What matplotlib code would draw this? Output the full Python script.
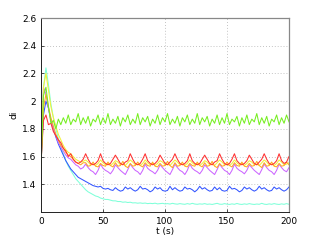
import numpy as np
import matplotlib
matplotlib.use('Agg')
import matplotlib.pyplot as plt

# time grid (s), one sample every 2 s
t = np.arange(0, 201, 2)

green = [1.50, 2.04, 2.10, 1.96, 1.84, 1.86, 1.80, 1.87, 1.83, 1.88,
         1.84, 1.90, 1.83, 1.87, 1.85, 1.91, 1.83, 1.88, 1.84, 1.89,
         1.82, 1.87, 1.85, 1.90, 1.83, 1.88, 1.84, 1.91, 1.83, 1.87,
         1.84, 1.89, 1.82, 1.88, 1.85, 1.90, 1.83, 1.87, 1.84, 1.91,
         1.83, 1.88, 1.85, 1.89, 1.82, 1.87, 1.84, 1.90, 1.83, 1.88,
         1.85, 1.91, 1.83, 1.87, 1.84, 1.89, 1.82, 1.88, 1.85, 1.90,
         1.83, 1.87, 1.84, 1.91, 1.83, 1.88, 1.85, 1.89, 1.82, 1.87,
         1.84, 1.90, 1.83, 1.88, 1.84, 1.91, 1.83, 1.87, 1.85, 1.89,
         1.82, 1.88, 1.84, 1.90, 1.83, 1.87, 1.85, 1.91, 1.83, 1.88,
         1.84, 1.89, 1.82, 1.87, 1.85, 1.90, 1.83, 1.88, 1.84, 1.90,
         1.85]

red = [1.55, 1.86, 1.90, 1.83, 1.84, 1.78, 1.75, 1.72, 1.70, 1.66,
       1.64, 1.60, 1.62, 1.58, 1.56, 1.55, 1.56, 1.58,
       1.62, 1.58, 1.55, 1.54, 1.55, 1.57,
       1.62, 1.57, 1.55, 1.54, 1.55, 1.58,
       1.61, 1.58, 1.55, 1.54, 1.56, 1.57,
       1.62, 1.58, 1.55, 1.54, 1.55, 1.58,
       1.62, 1.57, 1.55, 1.54, 1.55, 1.57,
       1.61, 1.58, 1.55, 1.54, 1.56, 1.58,
       1.62, 1.58, 1.55, 1.54, 1.55, 1.57,
       1.62, 1.57, 1.55, 1.54, 1.55, 1.58,
       1.61, 1.58, 1.55, 1.54, 1.56, 1.57,
       1.62, 1.58, 1.55, 1.54, 1.55, 1.58,
       1.62, 1.57, 1.55, 1.54, 1.55, 1.57,
       1.61, 1.58, 1.55, 1.54, 1.56, 1.58,
       1.62, 1.58, 1.55, 1.54, 1.55, 1.57,
       1.62, 1.57, 1.55, 1.56, 1.60]

orange = [1.56, 1.95, 2.05, 1.96, 1.88, 1.82, 1.76, 1.72, 1.68, 1.66,
          1.63, 1.61, 1.60, 1.58, 1.56, 1.55, 1.54, 1.555,
          1.555, 1.53, 1.535, 1.56, 1.53, 1.525,
          1.55, 1.535, 1.53, 1.56, 1.535, 1.525,
          1.555, 1.53, 1.535, 1.565, 1.53, 1.52,
          1.55, 1.53, 1.535, 1.56, 1.535, 1.525,
          1.555, 1.535, 1.53, 1.56, 1.53, 1.525,
          1.55, 1.53, 1.535, 1.565, 1.535, 1.52,
          1.555, 1.53, 1.535, 1.56, 1.53, 1.525,
          1.55, 1.535, 1.53, 1.56, 1.535, 1.525,
          1.555, 1.53, 1.535, 1.565, 1.53, 1.52,
          1.55, 1.53, 1.535, 1.56, 1.535, 1.525,
          1.555, 1.535, 1.53, 1.56, 1.53, 1.525,
          1.55, 1.53, 1.535, 1.565, 1.535, 1.52,
          1.555, 1.53, 1.535, 1.56, 1.53, 1.525,
          1.55, 1.53, 1.535, 1.56, 1.54]

yellow = [1.58, 2.10, 2.20, 2.08, 1.96, 1.88, 1.82, 1.76, 1.72, 1.68,
          1.65, 1.63, 1.62, 1.60, 1.58, 1.57, 1.56, 1.565,
          1.575, 1.56, 1.54, 1.545, 1.535, 1.55,
          1.575, 1.555, 1.54, 1.55, 1.535, 1.55,
          1.57, 1.56, 1.54, 1.545, 1.535, 1.555,
          1.575, 1.56, 1.54, 1.545, 1.535, 1.55,
          1.575, 1.555, 1.54, 1.55, 1.535, 1.55,
          1.57, 1.56, 1.54, 1.545, 1.535, 1.555,
          1.575, 1.56, 1.54, 1.545, 1.535, 1.55,
          1.575, 1.555, 1.54, 1.55, 1.535, 1.55,
          1.57, 1.56, 1.54, 1.545, 1.535, 1.555,
          1.575, 1.56, 1.54, 1.545, 1.535, 1.55,
          1.575, 1.555, 1.54, 1.55, 1.535, 1.55,
          1.57, 1.56, 1.54, 1.545, 1.535, 1.555,
          1.575, 1.56, 1.54, 1.545, 1.535, 1.55,
          1.575, 1.56, 1.54, 1.545, 1.555]

violet = [1.50, 2.10, 2.05, 1.95, 1.86, 1.80, 1.75, 1.70, 1.67, 1.64,
          1.61, 1.59, 1.58, 1.56, 1.54, 1.53, 1.51, 1.52,
          1.545, 1.52, 1.50, 1.49, 1.47, 1.50,
          1.545, 1.515, 1.50, 1.49, 1.475, 1.50,
          1.54, 1.52, 1.50, 1.485, 1.47, 1.505,
          1.545, 1.52, 1.50, 1.49, 1.47, 1.50,
          1.545, 1.515, 1.50, 1.49, 1.475, 1.50,
          1.54, 1.52, 1.50, 1.485, 1.47, 1.505,
          1.545, 1.52, 1.50, 1.49, 1.47, 1.50,
          1.545, 1.515, 1.50, 1.49, 1.475, 1.50,
          1.54, 1.52, 1.50, 1.485, 1.47, 1.505,
          1.545, 1.52, 1.50, 1.49, 1.47, 1.50,
          1.545, 1.515, 1.50, 1.49, 1.475, 1.50,
          1.54, 1.52, 1.50, 1.485, 1.47, 1.505,
          1.545, 1.52, 1.50, 1.49, 1.47, 1.50,
          1.545, 1.52, 1.50, 1.49, 1.52]

blue = [1.55, 1.90, 2.00, 1.95, 1.86, 1.80, 1.74, 1.69, 1.65, 1.61,
        1.57, 1.54, 1.51, 1.49, 1.47, 1.45, 1.44, 1.43,
        1.42, 1.41, 1.40, 1.39, 1.385, 1.38,
        1.385, 1.37, 1.365, 1.37, 1.36, 1.355,
        1.375, 1.36, 1.35, 1.355, 1.38, 1.365,
        1.375, 1.36, 1.35, 1.36, 1.385, 1.365,
        1.37, 1.36, 1.345, 1.355, 1.38, 1.365,
        1.375, 1.355, 1.35, 1.355, 1.385, 1.36,
        1.375, 1.36, 1.35, 1.355, 1.38, 1.365,
        1.37, 1.36, 1.345, 1.36, 1.385, 1.365,
        1.375, 1.36, 1.35, 1.355, 1.38, 1.36,
        1.375, 1.355, 1.35, 1.355, 1.385, 1.365,
        1.37, 1.36, 1.345, 1.355, 1.38, 1.365,
        1.375, 1.36, 1.35, 1.36, 1.385, 1.365,
        1.375, 1.36, 1.35, 1.355, 1.38, 1.365,
        1.375, 1.36, 1.35, 1.36, 1.38]

cyan = [1.60, 2.10, 2.24, 2.12, 1.98, 1.88, 1.80, 1.73, 1.67, 1.62,
        1.57, 1.53, 1.50, 1.47, 1.44, 1.42, 1.40, 1.38, 1.36, 1.345,
        1.335, 1.325, 1.315, 1.31, 1.30, 1.295, 1.29, 1.29, 1.285, 1.28,
        1.28, 1.275, 1.275, 1.27, 1.272, 1.268, 1.27, 1.265, 1.266, 1.263,
        1.265, 1.262, 1.264, 1.26, 1.262, 1.26, 1.263, 1.258, 1.26, 1.262,
        1.258, 1.26, 1.257, 1.262, 1.258, 1.256, 1.26, 1.257, 1.255, 1.26,
        1.256, 1.262, 1.257, 1.255, 1.258, 1.256, 1.26, 1.255, 1.257, 1.254,
        1.258, 1.262, 1.256, 1.255, 1.26, 1.256, 1.254, 1.258, 1.255, 1.261,
        1.256, 1.254, 1.258, 1.255, 1.26, 1.256, 1.254, 1.257, 1.255, 1.262,
        1.256, 1.254, 1.258, 1.255, 1.26, 1.256, 1.254, 1.258, 1.255, 1.26,
        1.255]

series = [(cyan, '#7fffd9'), (blue, '#3355ff'), (violet, '#cc66ff'),
          (yellow, '#f2f23a'), (orange, '#ffaa22'), (red, '#ff3030'),
          (green, '#77ee22')]

fig = plt.figure(figsize=(3.19, 2.4), dpi=100)
ax = fig.add_axes([0.1285, 0.117, 0.7775, 0.808])

for vals, col in series:
    ax.plot(t, vals, color=col, lw=0.75)

ax.set_xlim(0, 200)
ax.set_ylim(1.2, 2.6)
ax.set_xticks([0, 50, 100, 150, 200])
ax.set_yticks([1.4, 1.6, 1.8, 2.0, 2.2, 2.4, 2.6])
ax.set_yticklabels(['1.4', '1.6', '1.8', '2', '2.2', '2.4', '2.6'])
ax.grid(True, linestyle=(0, (1, 2.5)), color='#b0b0b0', lw=0.6)
ax.tick_params(direction='in', length=2, width=0.5, labelsize=6.5, pad=3.5)

for s in ['left', 'bottom']:
    ax.spines[s].set_color('#222222')
    ax.spines[s].set_linewidth(0.7)
for s in ['top', 'right']:
    ax.spines[s].set_color('#888888')
    ax.spines[s].set_linewidth(0.9)

ax.set_xlabel('t (s)', fontsize=6.5, labelpad=1)
ax.set_ylabel('di', fontsize=6.5, labelpad=2)

fig.savefig('out.png', dpi=100)
